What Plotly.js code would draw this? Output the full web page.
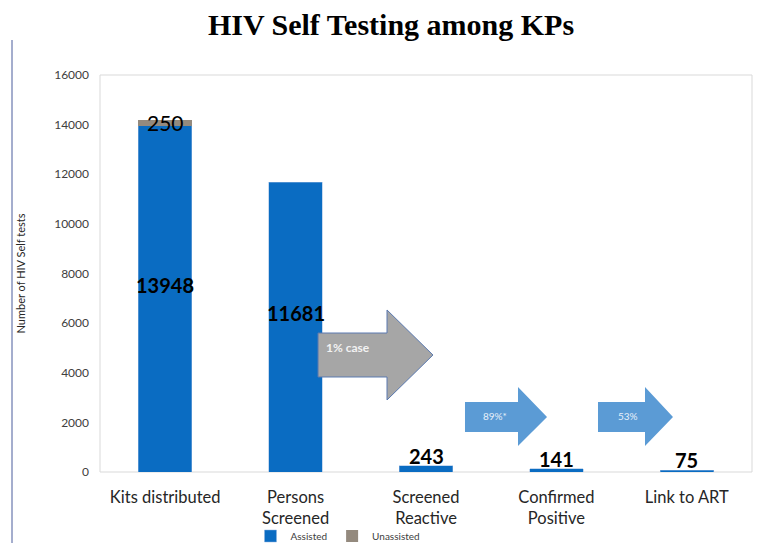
<!DOCTYPE html>
<html>
<head>
<meta charset="utf-8">
<script src="https://cdn.plot.ly/plotly-3.0.1.min.js"></script>
<style>html,body{margin:0;padding:0;background:#fff;}#chart{width:770px;height:543px;}</style>
</head>
<body>
<div id="chart"></div>
<script>
const categories = ["Kits distributed", "Persons Screened", "Screened Reactive", "Confirmed Positive", "Link to ART"];
const tickLabels = ["Kits distributed", "Persons<br>Screened", "Screened<br>Reactive", "Confirmed<br>Positive", "Link to ART"];
const assisted = [13948, 11681, 243, 141, 75];
const unassisted = [250, 0, 0, 0, 0];
const arrowLabels = ["1% case", "89%*", "53%"];

const W = 770, H = 543;
const M = {l: 100, r: 18, t: 75, b: 71, autoexpand: false};
const pw = W - M.l - M.r, ph = H - M.t - M.b;
const px = x => (x - M.l) / pw;
const py = y => (H - M.b - y) / ph;

function arrowPath(x0, x1, x2, yb0, yb1, yh0, yh1, ytip) {
  const pts = [[x0, yb0], [x1, yb0], [x1, yh0], [x2, ytip], [x1, yh1], [x1, yb1], [x0, yb1]];
  return 'M ' + pts.map(p => px(p[0]).toFixed(4) + ',' + py(p[1]).toFixed(4)).join(' L ') + ' Z';
}

const shapes = [
  {type: 'rect', xref: 'paper', yref: 'paper', x0: 0, x1: 1, y0: 0, y1: 1, line: {color: '#d9d9d9', width: 1}, layer: 'below'},
  {type: 'line', xref: 'paper', yref: 'paper', x0: px(12), x1: px(12), y0: py(40), y1: py(543), line: {color: '#4a5c9c', width: 1}},
  {type: 'path', xref: 'paper', yref: 'paper', path: arrowPath(318, 387, 433, 333, 377, 310, 400, 355), fillcolor: '#a6a6a6', line: {color: '#5a79b0', width: 1}},
  {type: 'path', xref: 'paper', yref: 'paper', path: arrowPath(465, 518, 547, 402, 432, 387, 446, 417), fillcolor: '#5b9bd5', line: {width: 0}},
  {type: 'path', xref: 'paper', yref: 'paper', path: arrowPath(598, 645, 673, 402, 432, 387, 446, 417), fillcolor: '#5b9bd5', line: {width: 0}}
];

const annotations = [];
assisted.forEach((v, i) => {
  if (i < 2) {
    annotations.push({x: categories[i], y: v / 2, text: '<b>' + v + '</b>', showarrow: false, yshift: 14,
      xanchor: 'center', yanchor: 'middle', font: {family: 'Lato', size: 20, color: '#000'}});
  } else {
    annotations.push({x: categories[i], y: v, text: '<b>' + v + '</b>', showarrow: false, xanchor: 'center', yanchor: 'bottom', yshift: -4,
      font: {family: 'Lato', size: 20, color: '#000'}});
  }
});
unassisted.forEach((v, i) => {
  if (v > 0) {
    annotations.push({x: categories[i], y: assisted[i] + v, text: String(v), showarrow: false, yshift: -3,
      xanchor: 'center', yanchor: 'middle', font: {family: 'Lato', size: 21, color: '#000'}});
  }
});
annotations.push({xref: 'paper', yref: 'paper', x: px(348), y: py(347), xanchor: 'center', yanchor: 'middle', text: '<b>' + arrowLabels[0] + '</b>', showarrow: false,
  font: {family: 'Lato', size: 12, color: '#f2f2f2'}});
annotations.push({xref: 'paper', yref: 'paper', x: px(495), y: py(416), xanchor: 'center', yanchor: 'middle', text: arrowLabels[1], showarrow: false,
  font: {family: 'Lato', size: 10, color: '#e8f0fa'}});
annotations.push({xref: 'paper', yref: 'paper', x: px(628), y: py(416), xanchor: 'center', yanchor: 'middle', text: arrowLabels[2], showarrow: false,
  font: {family: 'Lato', size: 10, color: '#e8f0fa'}});

const data = [
  {type: 'bar', name: 'Assisted', x: categories, y: assisted, marker: {color: '#0a6cc2', line: {color: '#8fb3e0', width: 0.5}}, width: 0.41, hoverinfo: 'x+y'},
  {type: 'bar', name: 'Unassisted', x: categories, y: unassisted, marker: {color: '#948a7e'}, width: 0.41, hoverinfo: 'x+y'}
];

const layout = {
  width: W, height: H,
  margin: M,
  paper_bgcolor: '#fff', plot_bgcolor: '#fff',
  barmode: 'stack',
  font: {family: 'Lato', color: '#404040'},
  title: {text: '<b>HIV Self Testing among KPs</b>', x: 391 / W, xanchor: 'center', y: 1 - 24 / H, yanchor: 'middle', yref: 'container',
    font: {family: 'Liberation Serif', size: 30, color: '#000'}},
  xaxis: {type: 'category', range: [-0.5, 4.5], tickvals: categories, ticktext: tickLabels, showgrid: false, zeroline: false,
    showline: false, ticks: '', tickfont: {family: 'Lato', size: 16.5, color: '#262626'}, ticklabelstandoff: 13},
  yaxis: {range: [0, 16000], dtick: 2000, tickformat: 'd', showgrid: false, zeroline: false, showline: false, ticks: '',
    tickfont: {family: 'Lato', size: 12, color: '#404040'}, ticklabelstandoff: 10,
    title: {text: 'Number of HIV Self tests', standoff: 26, font: {family: 'Lato', size: 11, color: '#262626'}}},
  showlegend: true,
  legend: {orientation: 'h', x: px(338), xanchor: 'center', y: py(536), yanchor: 'middle', font: {family: 'Lato', size: 10, color: '#404040'},
    itemwidth: 30, bgcolor: 'rgba(0,0,0,0)', traceorder: 'normal'},
  shapes: shapes,
  annotations: annotations
};

Plotly.newPlot('chart', data, layout, {displayModeBar: false, staticPlot: true});
</script>
</body>
</html>
